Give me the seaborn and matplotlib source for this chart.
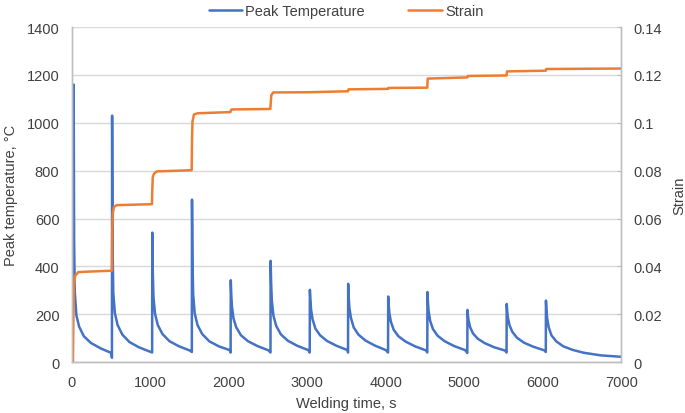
import pandas as pd
import seaborn as sns
import matplotlib.pyplot as plt
from matplotlib.ticker import MultipleLocator, FuncFormatter

# Peak temperature: each welding pass gives a spike then a cooling curve
cycle_start = [22, 512, 1024, 1530, 2024, 2532, 3032, 3520, 4030, 4530, 5040, 5540, 6040]
cycle_offset = [0, 6, 15, 35, 70, 130, 220, 340, 480]
cycle_temp = [
    [1160, 500, 290, 195, 148, 108, 80, 58, 38],
    [1030, 480, 290, 205, 155, 115, 84, 62, 44],
    [541, 380, 272, 202, 155, 117, 87, 66, 48],
    [679, 420, 282, 203, 155, 117, 87, 66, 50],
    [342, 285, 232, 182, 145, 112, 87, 67, 49],
    [423, 335, 258, 195, 152, 116, 89, 68, 50],
    [302, 262, 220, 178, 140, 112, 88, 68, 50],
    [327, 275, 228, 185, 145, 115, 90, 69, 50],
    [274, 240, 204, 168, 135, 108, 86, 66, 49],
    [293, 252, 212, 172, 138, 110, 87, 67, 50],
    [218, 195, 172, 145, 120, 98, 79, 62, 48],
    [243, 214, 186, 155, 127, 102, 81, 64, 49],
    [257, 218, 184, 145, 112, 87, 66, 51, 39],
]
cycle_dip = [20, 18, 40, 42, 40, 40, 40, 40, 40, 40, 38, 40, 42]
first_time = [0, 12, 16]
first_temp = [20, 510, 420]
tail_time = [6740, 7000]
tail_temp = [28, 22]

# Strain (right axis)
strain_time = [0, 13, 20, 25, 40, 80, 200, 510, 514, 520, 535, 570, 1020, 1024, 1030,
               1045, 1080, 1526, 1530, 1536, 1555, 1600, 2020, 2026, 2034, 2528, 2533,
               2540, 2565, 3030, 3518, 3524, 4028, 4034, 4528, 4533, 5038, 5044, 5538,
               5544, 6038, 6044, 7000]
strain = [0, 0, 0.022, 0.031, 0.036, 0.0376, 0.0378, 0.0382, 0.055, 0.062, 0.0648, 0.0656,
          0.066, 0.072, 0.0772, 0.0787, 0.0797, 0.0802, 0.092, 0.1005, 0.1035, 0.104,
          0.1045, 0.1052, 0.1056, 0.1058, 0.108, 0.1115, 0.1127, 0.1128, 0.1132, 0.114,
          0.1142, 0.1146, 0.1147, 0.1185, 0.119, 0.1196, 0.1198, 0.1215, 0.1218, 0.1225,
          0.1227]

times, temps = list(first_time), list(first_temp)
for i, start in enumerate(cycle_start):
    if i > 0:
        times.append(start - 2)
        temps.append(cycle_dip[i])
    for off, val in zip(cycle_offset, cycle_temp[i]):
        times.append(start + off)
        temps.append(val)
times += tail_time
temps += tail_temp

df_temp = pd.DataFrame({'time': times, 'temp': temps})
df_strain = pd.DataFrame({'time': strain_time, 'strain': strain})

blue = '#4472C4'
orange = '#ED7D31'
grid = '#D9D9D9'
text = '#404040'

sns.set_style('white')
plt.rcParams['font.family'] = ['Liberation Sans', 'DejaVu Sans']
plt.rcParams['font.size'] = 10.5

fig, ax = plt.subplots(figsize=(6.85, 4.14), dpi=100)
fig.subplots_adjust(left=0.105, right=0.907, bottom=0.123, top=0.932)
ax2 = ax.twinx()

sns.lineplot(data=df_temp, x='time', y='temp', ax=ax, color=blue, lw=1.8,
             sort=False, estimator=None, label='Peak Temperature', legend=False)
sns.lineplot(data=df_strain, x='time', y='strain', ax=ax2, color=orange, lw=1.8,
             sort=False, estimator=None, label='Strain', legend=False)

ax.set_xlim(0, 7000)
ax.set_ylim(0, 1400)
ax2.set_ylim(0, 0.14)
ax.yaxis.set_major_locator(MultipleLocator(200))
ax2.yaxis.set_major_locator(MultipleLocator(0.02))
ax2.yaxis.set_major_formatter(FuncFormatter(lambda v, p: '%g' % round(v, 2)))
ax.xaxis.set_major_locator(MultipleLocator(1000))
ax.xaxis.set_minor_locator(MultipleLocator(200))

ax.grid(axis='y', color=grid, lw=1)
ax.set_axisbelow(True)
for a in (ax, ax2):
    for side in ('left', 'right', 'bottom'):
        a.spines[side].set_color('#BFBFBF')
        a.spines[side].set_linewidth(1)
    a.spines['top'].set_visible(False)

ax.tick_params(axis='y', length=0, pad=9, colors=text, labelsize=10.5)
ax.tick_params(axis='x', which='both', direction='in', length=3, color='#BFBFBF',
               pad=9, labelcolor=text, labelsize=10.5)
ax2.tick_params(axis='y', direction='in', length=3, color='#BFBFBF', pad=9,
                labelcolor=text, labelsize=10.5)

ax.set_xlabel('Welding time, s', color=text, fontsize=10.5, labelpad=5)
ax.set_ylabel('Peak temperature, °C', color=text, fontsize=10.5, labelpad=6)
ax2.set_ylabel('Strain', color=text, fontsize=10.5, labelpad=7)

handles = ax.get_lines()[:1] + ax2.get_lines()[:1]
fig.legend(handles, ['Peak Temperature', 'Strain'], loc='center',
           bbox_to_anchor=(0.505, 0.971), ncol=2, frameon=False,
           handlelength=2.3, handletextpad=0.2, columnspacing=3.0,
           fontsize=10.5, labelcolor=text)

fig.savefig('out.png', dpi=100)
